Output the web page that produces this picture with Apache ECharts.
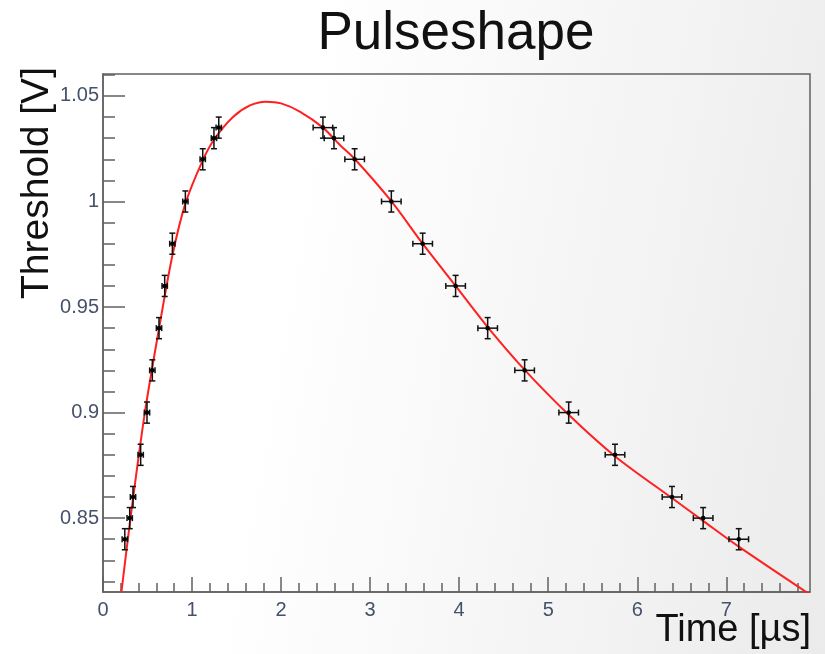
<!DOCTYPE html>
<html>
<head>
<meta charset="utf-8">
<script src="https://cdn.jsdelivr.net/npm/echarts@6/dist/echarts.min.js"></script>
<style>
html, body { margin: 0; padding: 0; }
body { width: 825px; height: 654px; background: linear-gradient(100deg, #ffffff 0%, #ffffff 35%, #ebebeb 100%); }
#chart { width: 825px; height: 654px; }
</style>
</head>
<body>
<div id="chart"></div>
<script>
// ---- measured points (Time [µs], Threshold [V]) ----
const timeUs = [0.245, 0.30, 0.337, 0.423, 0.494, 0.554, 0.629, 0.693, 0.779, 0.925, 1.12, 1.246, 1.30,
                2.47, 2.594, 2.826, 3.238, 3.59, 3.96, 4.32, 4.735, 5.23, 5.75, 6.39, 6.74, 7.14];
const thresholdV = [0.84, 0.85, 0.86, 0.88, 0.90, 0.92, 0.94, 0.96, 0.98, 1.00, 1.02, 1.03, 1.035,
                    1.035, 1.03, 1.02, 1.00, 0.98, 0.96, 0.94, 0.92, 0.90, 0.88, 0.86, 0.85, 0.84];
const timeErr = [0.03, 0.03, 0.03, 0.03, 0.03, 0.03, 0.03, 0.03, 0.03, 0.03, 0.03, 0.03, 0.03,
                 0.11, 0.11, 0.11, 0.11, 0.11, 0.11, 0.11, 0.11, 0.11, 0.11, 0.11, 0.11, 0.11];
const thresholdErr = [0.005, 0.005, 0.005, 0.005, 0.005, 0.005, 0.005, 0.005, 0.005, 0.005, 0.005, 0.005, 0.005,
                      0.005, 0.005, 0.005, 0.005, 0.005, 0.005, 0.005, 0.005, 0.005, 0.005, 0.005, 0.005, 0.005];

// ---- fit curve ----
const fitTime = [0.207, 0.31, 0.47, 0.63, 0.78, 0.925, 1.12, 1.25, 1.46, 1.65, 1.83, 2.0, 2.21, 2.47, 2.66, 2.83,
                 3.24, 3.59, 3.96, 4.32, 4.73, 5.23, 5.76, 6.39, 6.74, 7.14, 7.94];
const fitValue = [0.815, 0.8505, 0.900, 0.940, 0.9745, 0.999, 1.0195, 1.0295, 1.0400, 1.0455, 1.0473, 1.0465, 1.0426, 1.0350, 1.0268, 1.0200,
                  1.000, 0.980, 0.960, 0.9405, 0.9205, 0.899, 0.879, 0.8595, 0.8487, 0.8365, 0.8138];

// ---- axes ----
const xMajorTicks = [0, 1, 2, 3, 4, 5, 6, 7];
const xMinorTicks = [0.2, 0.4, 0.6, 0.8, 1.2, 1.4, 1.6, 1.8, 2.2, 2.4, 2.6, 2.8, 3.2, 3.4, 3.6, 3.8,
                     4.2, 4.4, 4.6, 4.8, 5.2, 5.4, 5.6, 5.8, 6.2, 6.4, 6.6, 6.8, 7.2, 7.4, 7.6, 7.8];
const yMajorTicks = [0.85, 0.9, 0.95, 1, 1.05];
const yMinorTicks = [0.82, 0.83, 0.84, 0.86, 0.87, 0.88, 0.89, 0.91, 0.92, 0.93, 0.94, 0.96, 0.97, 0.98, 0.99,
                     1.01, 1.02, 1.03, 1.04, 1.06];
const xRange = [0, 7.94];
const yRange = [0.815, 1.0604];
const titleText = 'Pulseshape';
const xName = 'Time [µs]';
const yName = 'Threshold [V]';

const FONT = 'Liberation Sans, Arial, Helvetica, sans-serif';
const axisGrey = '#626262';
const labelColor = '#45516a';

function renderErr(params, api) {
  const x = api.value(0), y = api.value(1), xe = api.value(2), ye = api.value(3);
  const c = api.coord([x, y]);
  const l = api.coord([x - xe, y]);
  const r = api.coord([x + xe, y]);
  const t = api.coord([x, y + ye]);
  const b = api.coord([x, y - ye]);
  const cap = 3;
  const st = { stroke: '#111', lineWidth: 1.5 };
  const line = (x1, y1, x2, y2) => ({ type: 'line', shape: { x1, y1, x2, y2 }, style: st });
  return {
    type: 'group',
    children: [
      line(l[0], c[1], r[0], c[1]),
      line(l[0], c[1] - cap, l[0], c[1] + cap),
      line(r[0], c[1] - cap, r[0], c[1] + cap),
      line(c[0], t[1], c[0], b[1]),
      line(c[0] - cap, t[1], c[0] + cap, t[1]),
      line(c[0] - cap, b[1], c[0] + cap, b[1]),
      { type: 'circle', shape: { cx: c[0], cy: c[1], r: 2.3 }, style: { fill: '#000' } }
    ]
  };
}

const gridBox = { left: 103, top: 74, width: 707, height: 518, containLabel: false, outerBoundsMode: 'none' };

const chart = echarts.init(document.getElementById('chart'), null, { renderer: 'canvas' });
chart.setOption({
  backgroundColor: 'transparent',
  animation: false,
  title: {
    text: titleText,
    left: 456,
    top: 8,
    padding: 0,
    textAlign: 'center',
    textStyle: { fontFamily: FONT, fontSize: 53, fontWeight: 'normal', color: '#111' }
  },
  graphic: [
    {
      type: 'text', x: 811, y: 631, silent: true,
      style: { text: xName, fontFamily: FONT, fontSize: 38, fill: '#111', align: 'right', verticalAlign: 'middle' }
    },
    {
      type: 'text', x: 37, y: 183, rotation: Math.PI / 2, silent: true,
      style: { text: yName, fontFamily: FONT, fontSize: 39, fill: '#111', align: 'center', verticalAlign: 'middle' }
    }
  ],
  grid: [
    Object.assign({ show: true, borderColor: axisGrey, borderWidth: 1.5, backgroundColor: 'transparent' }, gridBox),
    Object.assign({ show: false }, gridBox)
  ],
  xAxis: [
    {
      gridIndex: 0, type: 'value', min: xRange[0], max: xRange[1],
      axisLine: { show: true, lineStyle: { color: axisGrey, width: 1.5 } },
      axisTick: { show: true, inside: true, length: 15, customValues: xMajorTicks, lineStyle: { color: axisGrey, width: 1.5 } },
      axisLabel: { customValues: xMajorTicks, margin: 8, fontSize: 20, fontFamily: FONT, color: labelColor,
                   formatter: v => String(v) },
      splitLine: { show: false }
    },
    {
      gridIndex: 1, type: 'value', min: xRange[0], max: xRange[1],
      axisLine: { show: false },
      axisTick: { show: true, inside: true, length: 9, customValues: xMinorTicks, lineStyle: { color: axisGrey, width: 1.5 } },
      axisLabel: { show: false },
      splitLine: { show: false }
    }
  ],
  yAxis: [
    {
      gridIndex: 0, type: 'value', min: yRange[0], max: yRange[1],
      axisLine: { show: true, lineStyle: { color: axisGrey, width: 1.5 } },
      axisTick: { show: true, inside: true, length: 22, customValues: yMajorTicks, lineStyle: { color: axisGrey, width: 1.5 } },
      axisLabel: { customValues: yMajorTicks, margin: 4, fontSize: 20, fontFamily: FONT, color: labelColor,
                   formatter: v => String(parseFloat(v.toFixed(2))) },
      splitLine: { show: false }
    },
    {
      gridIndex: 1, type: 'value', min: yRange[0], max: yRange[1],
      axisLine: { show: false },
      axisTick: { show: true, inside: true, length: 12, customValues: yMinorTicks, lineStyle: { color: axisGrey, width: 1.5 } },
      axisLabel: { show: false },
      splitLine: { show: false }
    }
  ],
  series: [
    {
      name: 'fit', type: 'line', xAxisIndex: 0, yAxisIndex: 0,
      data: fitTime.map((t, i) => [t, fitValue[i]]),
      showSymbol: false, smooth: 0.3, clip: true,
      lineStyle: { color: '#ff2020', width: 2 }, z: 2
    },
    {
      name: 'data', type: 'custom', xAxisIndex: 0, yAxisIndex: 0,
      data: timeUs.map((t, i) => [t, thresholdV[i], timeErr[i], thresholdErr[i]]),
      dimensions: ['t', 'v', 'te', 've'],
      encode: { x: 0, y: 1 },
      renderItem: renderErr, z: 3
    }
  ]
});
</script>
</body>
</html>
